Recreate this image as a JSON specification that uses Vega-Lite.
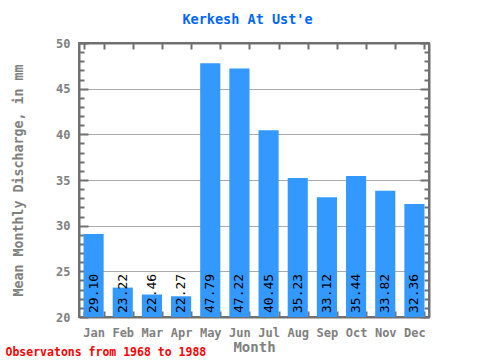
{
  "$schema": "https://vega.github.io/schema/vega-lite/v6.json",
  "width": 350,
  "height": 274,
  "autosize": {"type": "none"},
  "padding": {"left": 79, "top": 43, "right": 51, "bottom": 43},
  "background": "white",
  "config": {
    "font": "DejaVu Sans Mono",
    "view": {"stroke": "#707070", "strokeWidth": 2},
    "axis": {"domainColor": "#707070", "domainWidth": 2, "tickColor": "#707070", "tickWidth": 2, "labelColor": "#808080", "titleColor": "#808080", "labelFontWeight": "bold", "titleFontWeight": "bold", "labelFont": "DejaVu Sans Mono", "titleFont": "DejaVu Sans Mono", "gridColor": "#aaaaaa", "gridWidth": 1}
  },
  "data": {
    "values": [
      {"month": "Jan", "value": 29.10},
      {"month": "Feb", "value": 23.22},
      {"month": "Mar", "value": 22.46},
      {"month": "Apr", "value": 22.27},
      {"month": "May", "value": 47.79},
      {"month": "Jun", "value": 47.22},
      {"month": "Jul", "value": 40.45},
      {"month": "Aug", "value": 35.23},
      {"month": "Sep", "value": 33.12},
      {"month": "Oct", "value": 35.44},
      {"month": "Nov", "value": 33.82},
      {"month": "Dec", "value": 32.36}
    ]
  },
  "resolve": {"axis": {"x": "independent", "y": "independent"}},
  "layer": [
    {
      "mark": {"type": "bar", "color": "#3399ff"},
      "encoding": {
        "x": {"field": "month", "type": "nominal", "sort": null,
              "scale": {"paddingInner": 0.31, "paddingOuter": 0.155},
              "axis": {"orient": "bottom", "title": "Month", "labelAngle": 0, "tickBand": "extent", "tickSize": -6, "labelPadding": 16, "labelFontSize": 12, "titleFontSize": 14, "titlePadding": 2}},
        "y": {"field": "value", "type": "quantitative",
              "scale": {"domain": [20, 50], "zero": false, "nice": false},
              "axis": {"orient": "left", "title": "Mean Monthly Discharge, in mm", "values": [20, 25, 30, 35, 40, 45, 50], "grid": true, "tickSize": -9, "labelPadding": 18, "labelFontSize": 12, "titleFontSize": 13.3, "titlePadding": 30}},
        "y2": {"datum": 20}
      }
    },
    {
      "mark": {"type": "text", "angle": -90, "align": "left", "baseline": "middle", "dx": 4, "fontSize": 13, "color": "black", "font": "DejaVu Sans Mono"},
      "encoding": {
        "x": {"field": "month", "type": "nominal", "sort": null,
              "axis": {"orient": "top", "title": "Kerkesh At Ust'e", "titleColor": "#0066ff", "titleFontSize": 13.5, "titlePadding": 16, "titleX": 168, "labels": false, "tickBand": "extent", "tickSize": -6, "domain": true}},
        "y": {"datum": 20, "type": "quantitative",
              "axis": {"orient": "right", "title": null, "labels": false, "values": [20, 25, 30, 35, 40, 45, 50], "tickSize": -9, "grid": false}},
        "text": {"field": "value", "type": "quantitative", "format": ".2f"}
      }
    },
    {
      "mark": {"type": "bar", "opacity": 0},
      "encoding": {
        "x": {"field": "month", "type": "nominal", "sort": null,
              "axis": {"orient": "bottom", "title": "Observatons from 1968 to 1988", "titleColor": "#ff0000", "titleFontSize": 11.5, "titleX": -74, "titleY": 35, "titleAlign": "left", "titleBaseline": "middle", "labels": false, "ticks": false, "domain": false}},
        "y": {"field": "value", "type": "quantitative",
              "axis": {"orient": "left", "title": null, "labels": false, "values": [21,22,23,24,26,27,28,29,31,32,33,34,36,37,38,39,41,42,43,44,46,47,48,49], "tickSize": -5, "grid": false, "domain": false}}
      }
    },
    {
      "mark": {"type": "bar", "opacity": 0},
      "encoding": {
        "y": {"field": "value", "type": "quantitative",
              "axis": {"orient": "right", "title": null, "labels": false, "values": [21,22,23,24,26,27,28,29,31,32,33,34,36,37,38,39,41,42,43,44,46,47,48,49], "tickSize": -5, "grid": false, "domain": false}}
      }
    }
  ]
}
